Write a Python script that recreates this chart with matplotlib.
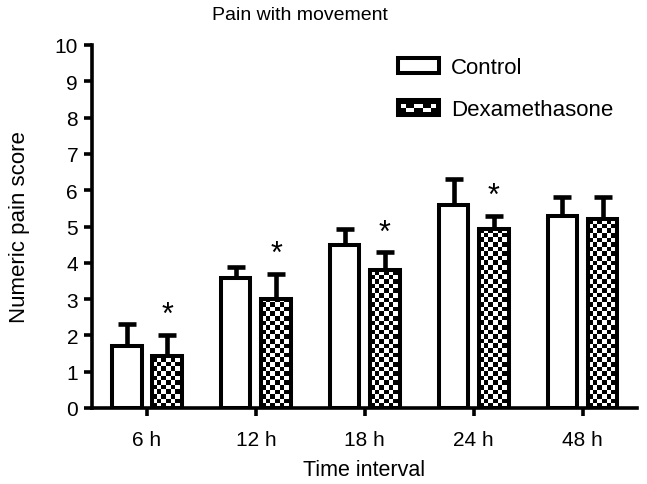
import numpy as np
import matplotlib
matplotlib.use("Agg")
import matplotlib.pyplot as plt
from matplotlib.patches import Rectangle
from matplotlib.legend_handler import HandlerBase

plt.rcParams['font.family'] = ['Liberation Sans', 'DejaVu Sans']

categories = ["6 h", "12 h", "18 h", "24 h", "48 h"]
control_mean = [1.72, 3.58, 4.5, 5.58, 5.3]
control_err = [0.6, 0.3, 0.42, 0.72, 0.5]
dexa_mean = [1.42, 3.0, 3.8, 4.92, 5.2]
dexa_err = [0.6, 0.7, 0.5, 0.38, 0.6]
significant = [True, True, True, True, False]

W, H = 647, 485
fig = plt.figure(figsize=(W / 100, H / 100), dpi=100)
ax = fig.add_axes([92 / W, 1 - 409 / H, (637 - 92) / W, (409 - 46) / H])

x = np.arange(len(categories))
bw = 0.27
off = 0.185
lw = 2.9

bars_c = ax.bar(x - off, control_mean, bw, facecolor='white', edgecolor='black',
                linewidth=lw, zorder=3, label='Control')
bars_d = ax.bar(x + off, dexa_mean, bw, facecolor='none', edgecolor='black',
                linewidth=lw, zorder=3, label='Dexamethasone')

# checker fill for dexamethasone bars
sq_x = 4.6 / 109.0
sq_y = 4.6 / 36.3
for b in bars_d:
    x0, y0 = b.get_x(), b.get_y()
    w, h = b.get_width(), b.get_height()
    nx = int(np.ceil(w / sq_x))
    ny = int(np.ceil(h / sq_y))
    ii, jj = np.meshgrid(np.arange(nx), np.arange(ny))
    img = ((ii + jj) % 2).astype(float)
    im = ax.imshow(img, cmap='gray', vmin=0, vmax=1, origin='lower',
                   extent=(x0, x0 + nx * sq_x, y0, y0 + ny * sq_y),
                   interpolation='nearest', aspect='auto', zorder=2.5)
    im.set_clip_path(b)

for xs, m, e in ((x - off, control_mean, control_err), (x + off, dexa_mean, dexa_err)):
    _, caps, lines = ax.errorbar(xs, m, yerr=[np.zeros(len(x)), e], fmt='none',
                                 ecolor='black', elinewidth=3.3, capsize=6.5,
                                 capthick=3.3, zorder=2)
    for c in caps:
        c.set_solid_capstyle('round')

for i in range(len(x)):
    if significant[i]:
        ax.text(x[i] + off, dexa_mean[i] + dexa_err[i] + 0.12, '*', ha='center',
                va='bottom', fontsize=22)

ax.set_xlim(-0.505, 4.5)
ax.set_ylim(0, 10)
ax.set_yticks(range(0, 11))
ax.set_xticks(x)
ax.set_xticklabels(categories)
for s in ['top', 'right']:
    ax.spines[s].set_visible(False)
for s in ['left', 'bottom']:
    ax.spines[s].set_linewidth(2.6)
ax.tick_params(axis='both', width=2.6, length=6, labelsize=15, direction='out')
ax.tick_params(axis='y', pad=4)
ax.tick_params(axis='x', pad=10)

ax.set_xlabel('Time interval', fontsize=15.5, labelpad=7)
ax.set_ylabel('Numeric pain score', fontsize=16, labelpad=18)
fig.text(300 / W, 1 - 16 / H, 'Pain with movement', ha='center', va='center', fontsize=14)


class CheckerHandler(HandlerBase):
    def create_artists(self, legend, orig_handle, xdescent, ydescent, width, height,
                       fontsize, trans):
        arts = []
        r = Rectangle((-xdescent, -ydescent), width, height, facecolor='black',
                      edgecolor='black', linewidth=lw, transform=trans)
        arts.append(r)
        n = 5
        sw = width / n
        for k in range(n):
            if k % 2 == 0:
                yy = -ydescent + height * 0.45
            else:
                yy = -ydescent + height * 0.15
            wk = sw
            xk = -xdescent + k * sw
            if k == 0:
                xk += 0.35 * sw
                wk = 0.65 * sw
            if k == n - 1:
                wk = 0.65 * sw
            arts.append(Rectangle((xk, yy), wk, height * 0.3,
                                  facecolor='white', edgecolor='none', transform=trans))
        return arts


class BoxHandler(HandlerBase):
    def create_artists(self, legend, orig_handle, xdescent, ydescent, width, height,
                       fontsize, trans):
        r = Rectangle((-xdescent, -ydescent), width, height, facecolor='white',
                      edgecolor='black', linewidth=lw, transform=trans)
        return [r]


h1 = Rectangle((0, 0), 1, 1)
h2 = Rectangle((0, 0), 1, 1)
leg = ax.legend([h1, h2], ['Control', 'Dexamethasone'],
                handler_map={h1: BoxHandler(), h2: CheckerHandler()},
                loc='upper left', bbox_to_anchor=((398 - 92) / (637 - 92), 1 - 12 / 363),
                frameon=False, fontsize=16, handlelength=1.85, handleheight=0.65,
                labelspacing=0.95, handletextpad=0.55, borderpad=0, borderaxespad=0)

fig.savefig('out.png', dpi=100)
